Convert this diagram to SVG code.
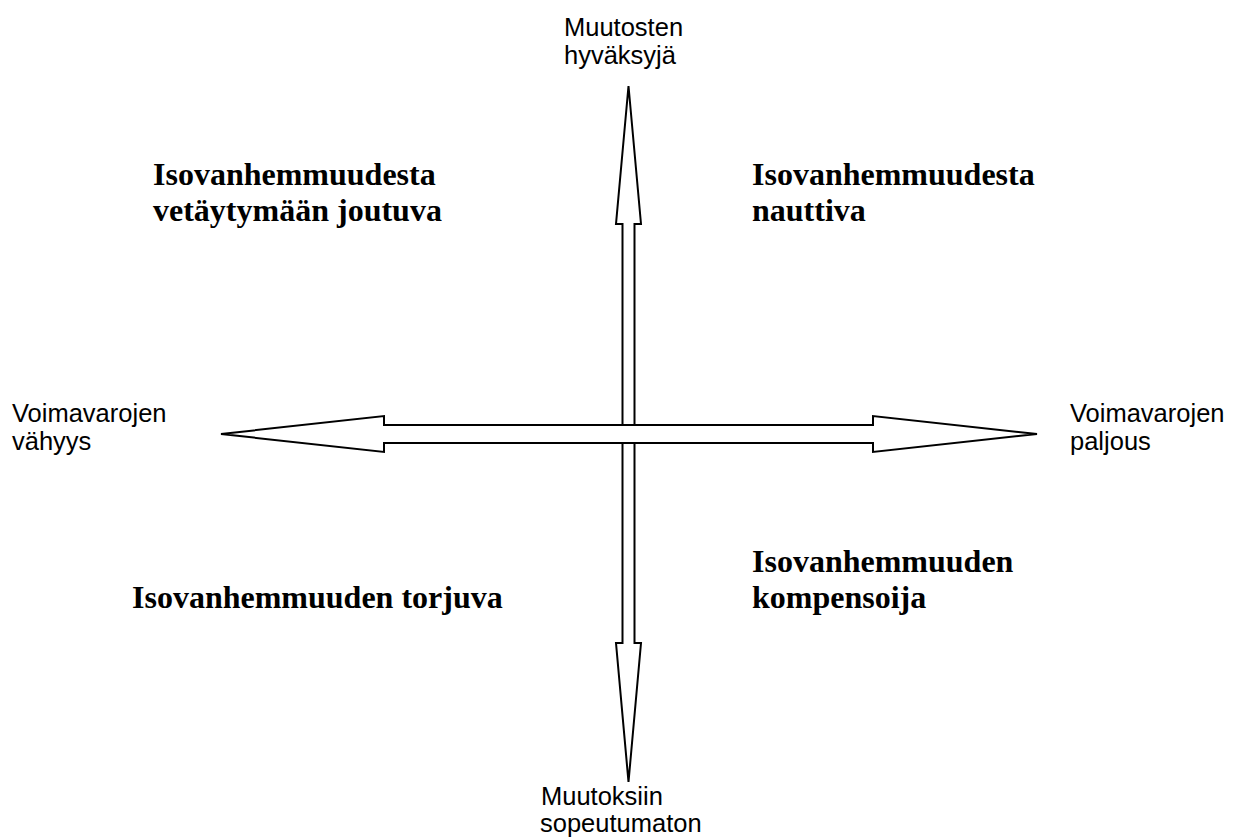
<svg xmlns="http://www.w3.org/2000/svg" width="1234" height="837" viewBox="0 0 1234 837">
<style>
.lbl{font-family:"Liberation Sans",Arial,sans-serif;font-size:25.5px;fill:#000}
.q{font-family:"Liberation Serif","Times New Roman",serif;font-size:32px;font-weight:bold;fill:#000}
.arr{fill:#fff;stroke:#000;stroke-width:2;stroke-linejoin:miter}
</style>
<rect width="1234" height="837" fill="#fff"/>
<g id="connectors">
<polygon class="arr" points="628.5,86 641,224 634.5,224 634.5,643 641,643 628.5,782 616,643 622.5,643 622.5,224 616,224"/>
<polygon class="arr" points="221,434 384,416 384,425 873,425 873,416 1037,434 873,452 873,443 384,443 384,452"/>
</g>
<g id="top-label"><text class="lbl" x="564" y="36">Muutosten</text><text class="lbl" x="564" y="64">hyväksyjä</text></g>
<g id="bottom-label"><text class="lbl" x="541" y="805">Muutoksiin</text><text class="lbl" x="540" y="832">sopeutumaton</text></g>
<g id="left-label"><text class="lbl" x="12" y="422">Voimavarojen</text><text class="lbl" x="12" y="450">vähyys</text></g>
<g id="right-label"><text class="lbl" x="1070" y="422">Voimavarojen</text><text class="lbl" x="1070" y="450">paljous</text></g>
<g id="q-top-left"><text class="q" x="153" y="185">Isovanhemmuudesta</text><text class="q" x="153" y="221">vetäytymään joutuva</text></g>
<g id="q-top-right"><text class="q" x="752" y="185">Isovanhemmuudesta</text><text class="q" x="752" y="221">nauttiva</text></g>
<g id="q-bottom-left"><text class="q" x="132" y="608">Isovanhemmuuden torjuva</text></g>
<g id="q-bottom-right"><text class="q" x="752" y="572">Isovanhemmuuden</text><text class="q" x="752" y="608">kompensoija</text></g>
</svg>
